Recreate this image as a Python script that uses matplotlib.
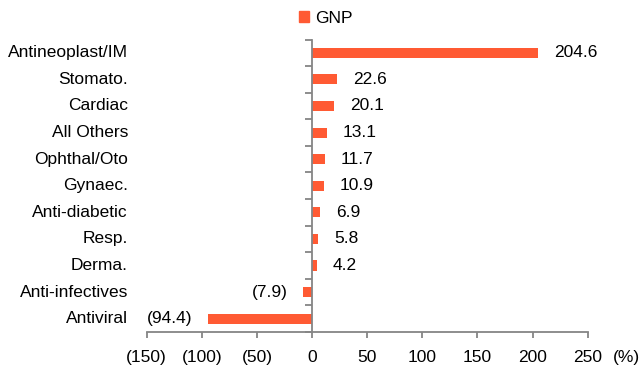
import matplotlib.pyplot as plt
from matplotlib.patches import Patch
from matplotlib.ticker import FixedLocator, FuncFormatter, NullFormatter
from matplotlib.transforms import blended_transform_factory

categories = ["Antineoplast/IM", "Stomato.", "Cardiac", "All Others", "Ophthal/Oto",
              "Gynaec.", "Anti-diabetic", "Resp.", "Derma.", "Anti-infectives", "Antiviral"]
gnp = [204.6, 22.6, 20.1, 13.1, 11.7, 10.9, 6.9, 5.8, 4.2, -7.9, -94.4]
x_ticks = [-150, -100, -50, 0, 50, 100, 150, 200, 250]

BAR = "#FF5A33"
GREY = "#858585"
FS = 12.5

plt.rcParams["font.family"] = ["Liberation Sans", "DejaVu Sans"]


def fmt(v, pos=None):
    if v < 0:
        return f"({abs(v):g})"
    return f"{v:g}"


def main():
    fig = plt.figure(figsize=(6.41, 3.77), dpi=100)
    ax = fig.add_axes([0.2289, 0.1194, 0.6880, 0.7758])

    y = list(range(len(categories)))
    ax.barh(y, gnp, height=0.38, color=BAR)

    ax.set_xlim(-150, 250)
    ax.set_ylim(len(categories) - 0.5, -0.5)

    # value labels
    for yi, v in zip(y, gnp):
        if v >= 0:
            ax.annotate(f"{v:.1f}", (v, yi), xytext=(11.5, 0), textcoords="offset points",
                        ha="left", va="center", fontsize=FS)
        else:
            ax.annotate(f"({abs(v):.1f})", (v, yi), xytext=(-11, 0), textcoords="offset points",
                        ha="right", va="center", fontsize=FS)

    # category labels at the left of the plot area
    trans = blended_transform_factory(ax.transAxes, ax.transData)
    for yi, c in zip(y, categories):
        ax.text(-0.0424, yi, c, transform=trans, ha="right", va="center", fontsize=FS)

    # spines
    for s in ["top", "right"]:
        ax.spines[s].set_visible(False)
    ax.spines["left"].set_position(("data", 0))
    ax.spines["left"].set_color(GREY)
    ax.spines["bottom"].set_color(GREY)
    ax.spines["left"].set_linewidth(1.3)
    ax.spines["bottom"].set_linewidth(1.3)

    ax.xaxis.set_major_locator(FixedLocator(x_ticks))
    ax.xaxis.set_major_formatter(FuncFormatter(fmt))
    ax.tick_params(axis="x", direction="out", length=4, width=1.3, color=GREY, labelsize=FS, pad=9)

    ax.set_yticks(y)
    ax.yaxis.set_major_formatter(NullFormatter())
    ax.yaxis.set_minor_locator(FixedLocator([i - 0.5 for i in range(len(categories) + 1)]))
    ax.tick_params(axis="y", which="major", length=0)
    ax.tick_params(axis="y", which="minor", length=5, width=1.3, direction="out", color=GREY)

    # unit label, aligned with the tick labels
    ax.annotate("(%)", (1, 0), xycoords="axes fraction", xytext=(18, -13),
                textcoords="offset points", ha="left", va="top", fontsize=FS)

    fig.legend(handles=[Patch(color=BAR, label="GNP")], loc="center",
               bbox_to_anchor=(0.5086, 0.952), frameon=False, fontsize=FS,
               handlelength=0.58, handleheight=0.58, handletextpad=0.35)

    fig.savefig("out.png", dpi=100, facecolor="white")
    plt.close(fig)


if __name__ == "__main__":
    main()
